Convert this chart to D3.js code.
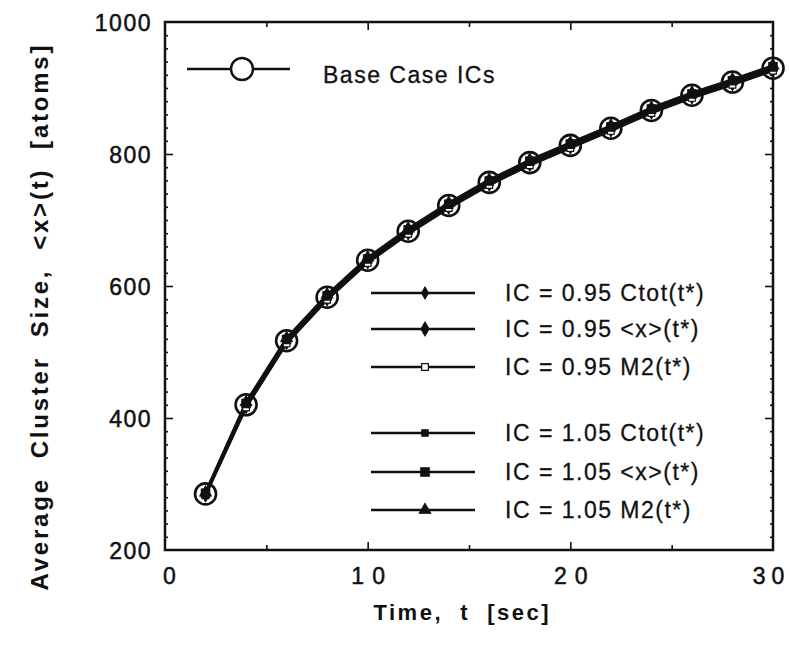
<!DOCTYPE html>
<html><head><meta charset="utf-8">
<script src="https://cdn.jsdelivr.net/npm/d3@7"></script>
<style>
body{margin:0;background:#fff}
text{font-family:"Liberation Sans",Arial,Helvetica,sans-serif;fill:#111}
</style>
</head><body>
<svg id="chart" width="790" height="656"></svg>
<script>
// ---- data ----
const times = [2,4,6,8,10,12,14,16,18,20,22,24,26,28,30];
const baseCase  = [285,420,517,583,639,683,722,757,787,813,839,866,889,909,930];
const ic095Ctot = [283,417,514,580,636,680,719,754,784,810,836,863,886,906,927];
const ic095X    = [284,418,515,581,637,681,720,755,785,811,837,864,887,907,928];
const ic095M2   = [283,416,513,579,635,679,718,753,783,809,835,862,885,905,926];
const ic105Ctot = [287,423,520,586,642,686,725,760,790,816,842,869,892,912,933];
const ic105X    = [286,422,519,585,641,685,724,759,789,815,841,868,891,911,932];
const ic105M2   = [287,424,521,587,643,687,726,761,791,817,843,870,893,913,934];
const seriesNames = ["IC = 0.95 Ctot(t*)","IC = 0.95 <x>(t*)","IC = 0.95 M2(t*)",
                     "IC = 1.05 Ctot(t*)","IC = 1.05 <x>(t*)","IC = 1.05 M2(t*)"];
const baseName = "Base Case ICs";
const xTicks = [0,10,20,30];
const xMinor = [5,15,25];
const yTicks = [200,400,600,800,1000];
const xTitle = "Time,  t  [sec]";
const yTitle = "Average  Cluster  Size,  <x>(t)  [atoms]";

// ---- layout ----
const L = 165, R = 773, T = 22, B = 550;
const svg = d3.select("#chart");
const x = d3.scaleLinear().domain([0,30]).range([L,R]);
const y = d3.scaleLinear().domain([200,1000]).range([B,T]);

// frame
svg.append("rect").attr("x",L).attr("y",T).attr("width",R-L).attr("height",B-T)
  .attr("fill","none").attr("stroke","#111").attr("stroke-width",2.5);

function styleAxis(g){ g.select(".domain").remove(); g.selectAll(".tick line").attr("stroke","#111").attr("stroke-width",1.6); }

// major/minor ticks (inward)
svg.append("g").attr("transform",`translate(0,${B})`)
  .call(d3.axisBottom(x).tickValues(xTicks.slice(1,-1)).tickSize(-8).tickFormat("")).call(styleAxis);
svg.append("g").attr("transform",`translate(0,${B})`)
  .call(d3.axisBottom(x).tickValues(xMinor).tickSize(-5).tickFormat("")).call(styleAxis);
svg.append("g").attr("transform",`translate(0,${T})`)
  .call(d3.axisTop(x).tickValues(xTicks.slice(1,-1)).tickSize(-8).tickFormat("")).call(styleAxis);
svg.append("g").attr("transform",`translate(0,${T})`)
  .call(d3.axisTop(x).tickValues(xMinor).tickSize(-5).tickFormat("")).call(styleAxis);
svg.append("g").attr("transform",`translate(${L},0)`)
  .call(d3.axisLeft(y).tickValues(yTicks.slice(1,-1)).tickSize(-8).tickFormat("")).call(styleAxis);
svg.append("g").attr("transform",`translate(${R},0)`)
  .call(d3.axisRight(y).tickValues(yTicks.slice(1,-1)).tickSize(-8).tickFormat("")).call(styleAxis);
const yMinor = d3.range(220,1000,20).filter(v=>v%200!==0);
svg.append("g").attr("transform",`translate(${L},0)`)
  .call(d3.axisLeft(y).tickValues(yMinor).tickSize(-3).tickFormat("")).call(styleAxis);
svg.append("g").attr("transform",`translate(${R},0)`)
  .call(d3.axisRight(y).tickValues(yMinor).tickSize(-3).tickFormat("")).call(styleAxis);

// tick labels
const yl = svg.append("g").attr("transform",`translate(${L},0)`)
  .call(d3.axisLeft(y).tickValues(yTicks).tickSize(0).tickPadding(13).tickFormat(d3.format("d")));
yl.select(".domain").remove();
yl.selectAll("text").attr("font-size",23).style("letter-spacing","1.5px")
  .attr("font-family","Liberation Sans, Arial, sans-serif").attr("fill","#111")
  .attr("stroke","#111").attr("stroke-width",0.5).attr("dy","0.36em");

const xl = svg.append("g").attr("transform",`translate(0,${B})`)
  .call(d3.axisBottom(x).tickValues(xTicks).tickSize(0).tickPadding(18).tickFormat(d3.format("d")));
xl.select(".domain").remove();
xl.selectAll("text").attr("font-size",23).style("letter-spacing","8px").attr("dx","4px")
  .attr("font-family","Liberation Sans, Arial, sans-serif").attr("fill","#111")
  .attr("stroke","#111").attr("stroke-width",0.5);
xl.selectAll(".tick").filter(d=>d===0).select("text").attr("dx","8px");
xl.selectAll(".tick").filter(d=>d===30).select("text").attr("dx","-2px").style("letter-spacing","6px");

// axis titles
svg.append("text").attr("x",461).attr("y",620).attr("text-anchor","middle")
  .attr("font-size",22).attr("font-weight","bold").style("white-space","pre")
  .attr("textLength",175).attr("lengthAdjust","spacing").text(xTitle);
svg.append("text").attr("transform","translate(48,318) rotate(-90)").attr("text-anchor","middle")
  .attr("font-size",24).attr("font-weight","bold").style("white-space","pre")
  .attr("textLength",545).attr("lengthAdjust","spacing").text(yTitle);

// ---- series ----
const others = [ic095Ctot, ic095X, ic095M2, ic105Ctot, ic105X, ic105M2];
const symbols = [
  {type:d3.symbolDiamond, size:40, fill:"#111"},
  {type:d3.symbolDiamond, size:55, fill:"#111"},
  {type:d3.symbolSquare, size:45, fill:"#fff"},
  {type:d3.symbolSquare, size:40, fill:"#111"},
  {type:d3.symbolSquare, size:70, fill:"#111"},
  {type:d3.symbolTriangle, size:55, fill:"#111"}
];
const line = d3.line().x(d=>x(d[0])).y(d=>y(d[1]));
const allSeries = [baseCase, ...others];
allSeries.forEach(vals=>{
  svg.append("path").datum(times.map((t,i)=>[t,vals[i]]))
    .attr("d",line).attr("fill","none").attr("stroke","#111").attr("stroke-width",2.6);
});
others.forEach((vals,k)=>{
  const s = symbols[k];
  svg.append("g").selectAll("path").data(times.map((t,i)=>[t,vals[i]])).join("path")
    .attr("transform",d=>`translate(${x(d[0])},${y(d[1])})`)
    .attr("d",d3.symbol().type(s.type).size(s.size))
    .attr("fill",s.fill).attr("stroke","#111").attr("stroke-width",1.2);
});
svg.append("g").selectAll("circle").data(times.map((t,i)=>[t,baseCase[i]])).join("circle")
  .attr("cx",d=>x(d[0])).attr("cy",d=>y(d[1])).attr("r",10.5)
  .attr("fill","none").attr("stroke","#111").attr("stroke-width",2.6);

// ---- legends ----
const lg = svg.append("g");
lg.append("line").attr("x1",187).attr("x2",290).attr("y1",69).attr("y2",69)
  .attr("stroke","#111").attr("stroke-width",2.6);
lg.append("circle").attr("cx",242).attr("cy",69).attr("r",11)
  .attr("fill","#fff").attr("stroke","#111").attr("stroke-width",2.4);
lg.append("text").attr("x",323).attr("y",83).attr("font-size",23)
  .attr("stroke","#111").attr("stroke-width",0.3)
  .style("letter-spacing","1.5px").text(baseName);

const rowsY = [293,329,367,433,472,510];
seriesNames.forEach((name,k)=>{
  const ry = rowsY[k], s = symbols[k];
  lg.append("line").attr("x1",371).attr("x2",475).attr("y1",ry).attr("y2",ry)
    .attr("stroke","#111").attr("stroke-width",2.6);
  lg.append("path").attr("transform",`translate(425,${ry})`)
    .attr("d",d3.symbol().type(s.type).size(s.size))
    .attr("fill",s.fill).attr("stroke","#111").attr("stroke-width",1.2);
  lg.append("text").attr("x",505).attr("y",ry+8).attr("font-size",23)
    .attr("stroke","#111").attr("stroke-width",0.3)
    .style("letter-spacing","1.5px").text(name);
});
</script>
</body></html>
